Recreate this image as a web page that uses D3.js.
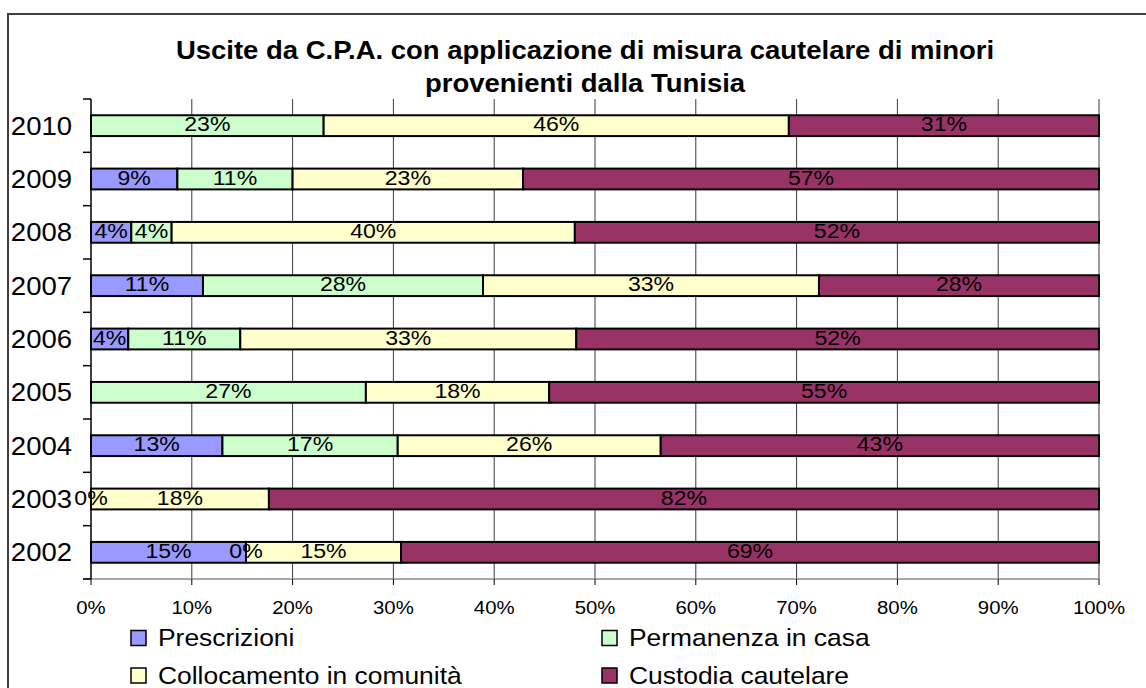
<!DOCTYPE html>
<html>
<head>
<meta charset="utf-8">
<script src="https://cdn.jsdelivr.net/npm/d3@7"></script>
<style>
  body { margin: 0; background: #fff; }
  text { font-family: "Liberation Sans", Arial, sans-serif; fill: #000; }
</style>
</head>
<body>
<svg id="chart"></svg>
<script>
// values in % (labels are rounded), null = no value in the sheet
const years = ['2010', '2009', '2008', '2007', '2006', '2005', '2004', '2003', '2002'];
const prescrizioni = [null, 8.57, 4, 11.11, 3.70, null, 13.04, null, 15.38];
const permanenza = [23.08, 11.43, 4, 27.78, 11.11, 27.27, 17.39, 0, 0];
const collocamento = [46.15, 22.86, 40, 33.33, 33.33, 18.18, 26.09, 17.65, 15.38];
const custodia = [30.77, 57.14, 52, 27.78, 51.85, 54.55, 43.48, 82.35, 69.23];

const seriesNames = ['Prescrizioni', 'Permanenza in casa', 'Collocamento in comunità', 'Custodia cautelare'];
const seriesColors = ['#9999FF', '#CCFFCC', '#FFFFCC', '#993366'];
const xTicks = [0, 10, 20, 30, 40, 50, 60, 70, 80, 90, 100];
const titleLines = ['Uscite da C.P.A. con applicazione di misura cautelare di minori', 'provenienti dalla Tunisia'];

const W = 1146, H = 688;
const margin = { top: 99, left: 91, right: 47, bottom: 108 };
const sx = 1.1; // text in the original is a bit wider than tall

const svg = d3.select('#chart').attr('width', W).attr('height', H);

// outer chart frame (runs off the right and bottom edges)
svg.append('rect')
  .attr('x', 8).attr('y', 14)
  .attr('width', 1160).attr('height', 700)
  .attr('fill', 'none').attr('stroke', '#404040').attr('stroke-width', 2);

const width = W - margin.left - margin.right;
const height = H - margin.top - margin.bottom - 1;

const chart = svg.append('g').attr('transform', `translate(${margin.left},${margin.top})`);

const rows = years.map((y, i) => ({
  year: y,
  Prescrizioni: prescrizioni[i],
  'Permanenza in casa': permanenza[i],
  'Collocamento in comunità': collocamento[i],
  'Custodia cautelare': custodia[i]
}));

const stack = d3.stack()
  .keys(seriesNames)
  .value((d, k) => d[k] || 0);
const stacked = stack(rows);

const xScale = d3.scaleLinear().domain([0, 100]).range([0, width]);
const yScale = d3.scaleBand().domain(years).range([0, height])
  .paddingInner(0.61).paddingOuter(0.305);
const colorScale = d3.scaleOrdinal().domain(seriesNames).range(seriesColors);

const stretched = (sel, x, y) => sel.attr('transform', `translate(${x},${y}) scale(${sx},1)`);

// gridlines
chart.selectAll('.grid').data(xTicks.slice(1)).enter().append('line')
  .attr('class', 'grid')
  .attr('x1', d => xScale(d)).attr('x2', d => xScale(d))
  .attr('y1', 0).attr('y2', height)
  .attr('stroke', '#3a3a3a').attr('stroke-width', 1);

// x axis
const xAxisG = chart.append('g').attr('transform', `translate(0,${height})`);
xAxisG.append('line')
  .attr('x1', -8).attr('x2', width)
  .attr('stroke', '#8a8a8a').attr('stroke-width', 1.5);
xAxisG.selectAll('.xtick').data(xTicks).enter().append('line')
  .attr('x1', d => xScale(d)).attr('x2', d => xScale(d))
  .attr('y1', 0).attr('y2', 6)
  .attr('stroke', '#000');
xAxisG.selectAll('.xlabel').data(xTicks).enter().append('text')
  .attr('text-anchor', 'middle')
  .style('font-size', '18.5px')
  .each(function (d) { stretched(d3.select(this), xScale(d), 35); })
  .text(d => d + '%');

// y axis
const yAxisG = chart.append('g');
yAxisG.append('line')
  .attr('x1', 0).attr('x2', 0).attr('y1', 0).attr('y2', height)
  .attr('stroke', '#000').attr('stroke-width', 1.5);
const bounds = years.map((d, i) => i * yScale.step()).concat([height]);
yAxisG.selectAll('.ytick').data(bounds).enter().append('line')
  .attr('x1', -8).attr('x2', 0)
  .attr('y1', d => d).attr('y2', d => d)
  .attr('stroke', '#000').attr('stroke-width', 1.5);
yAxisG.selectAll('.ylabel').data(years).enter().append('text')
  .attr('text-anchor', 'end')
  .style('font-size', '25px')
  .each(function (d) { stretched(d3.select(this), -19, yScale(d) + yScale.bandwidth() / 2 + 9); })
  .text(d => d);

// bars
const layers = chart.selectAll('.layer').data(stacked).enter().append('g')
  .attr('class', 'layer')
  .attr('fill', d => colorScale(d.key));

layers.selectAll('rect').data(d => d).enter().append('rect')
  .attr('x', d => xScale(d[0]))
  .attr('y', d => yScale(d.data.year))
  .attr('width', d => xScale(d[1]) - xScale(d[0]))
  .attr('height', yScale.bandwidth())
  .attr('stroke', '#000')
  .attr('stroke-width', 2);

// data labels (drawn after all bars)
const labels = [];
stacked.forEach(s => {
  s.forEach(d => {
    const v = d.data[s.key];
    if (v === null) return;
    labels.push({ x: (xScale(d[0]) + xScale(d[1])) / 2, y: yScale(d.data.year) + yScale.bandwidth() / 2, v });
  });
});
chart.selectAll('.dlabel').data(labels).enter().append('text')
  .attr('class', 'dlabel')
  .attr('text-anchor', 'middle')
  .style('font-size', '21px')
  .each(function (d) { stretched(d3.select(this), d.x, d.y + 5.5); })
  .text(d => Math.round(d.v) + '%');

// title
svg.selectAll('.title').data(titleLines).enter().append('text')
  .attr('text-anchor', 'middle')
  .style('font-size', '25px')
  .style('font-weight', 'bold')
  .each(function (d, i) { stretched(d3.select(this), 585, 59 + i * 33); })
  .text(d => d);

// legend
const legendPos = [[131, 638], [602, 638], [131, 675.5], [602, 675.5]];
const legend = svg.selectAll('.legend').data(seriesNames).enter().append('g')
  .attr('class', 'legend')
  .attr('transform', (d, i) => `translate(${legendPos[i][0]},${legendPos[i][1]})`);
legend.append('rect')
  .attr('x', 0).attr('y', -7.5)
  .attr('width', 15).attr('height', 15)
  .attr('fill', d => colorScale(d))
  .attr('stroke', '#000').attr('stroke-width', 1.5);
legend.append('text')
  .style('font-size', '24px')
  .each(function () { stretched(d3.select(this), 27, 8); })
  .text(d => d);
</script>
</body>
</html>
